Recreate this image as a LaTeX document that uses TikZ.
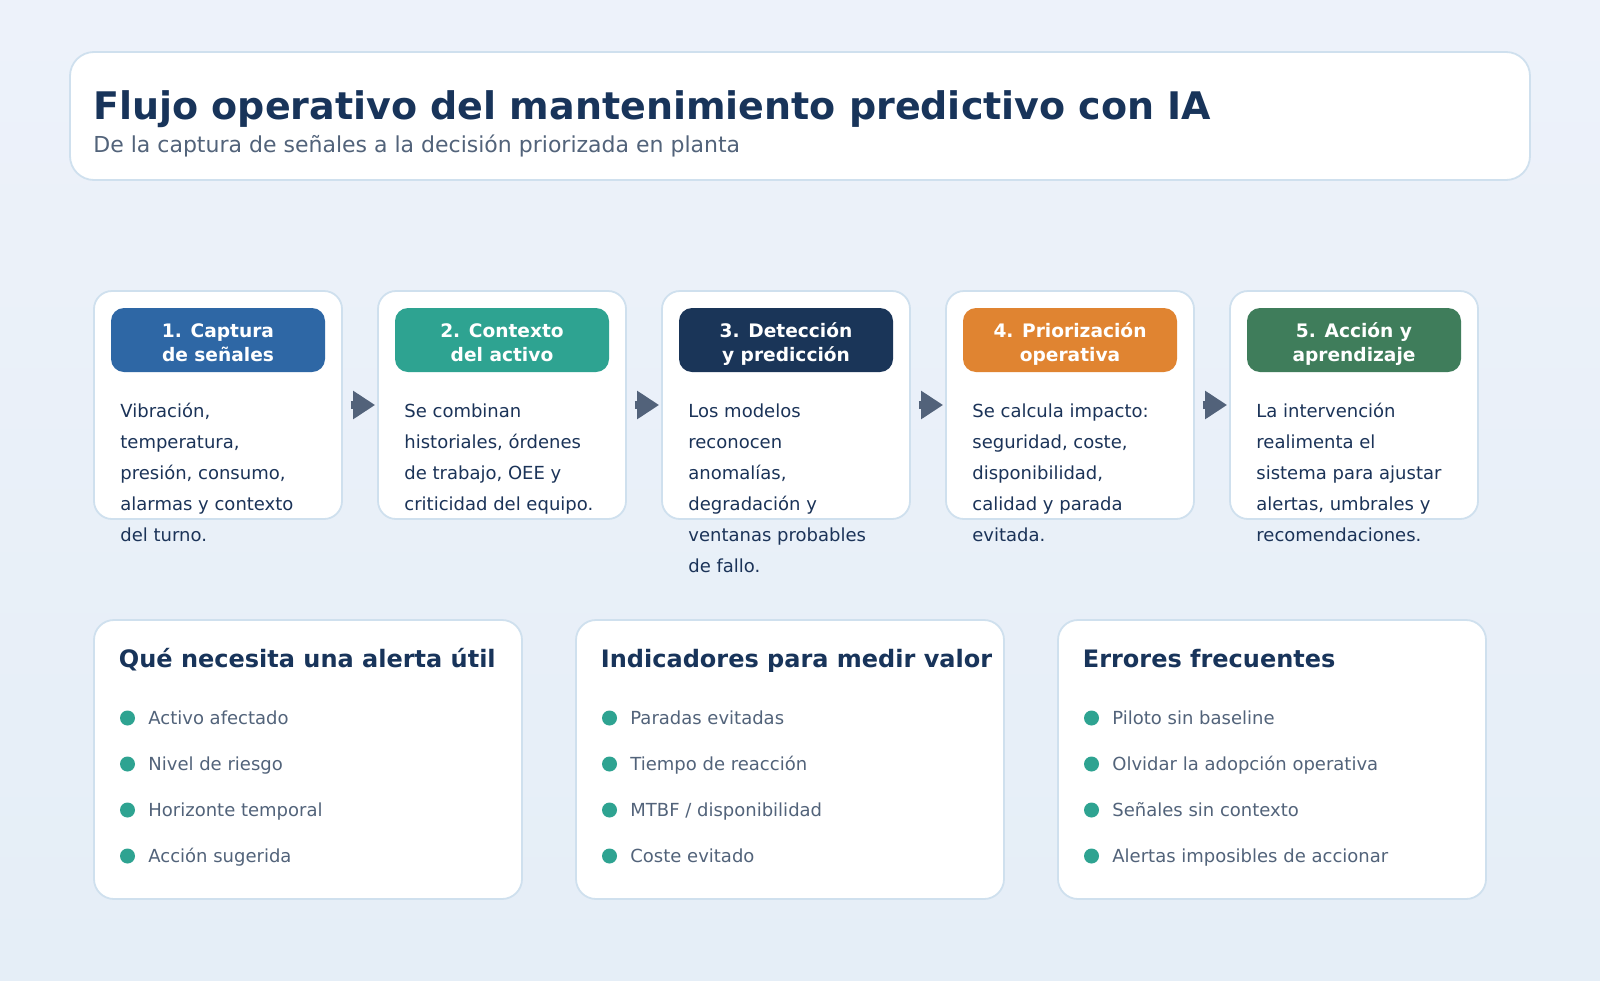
\documentclass[tikz,border=0pt]{standalone}
\usepackage{fontspec}
\setmainfont{DejaVu Sans}
\usetikzlibrary{arrows.meta}
\definecolor{bgtop}{HTML}{EDF2FA}
\definecolor{bgbot}{HTML}{E5EEF7}
\definecolor{edge}{HTML}{CFE0EE}
\definecolor{navy}{HTML}{18345A}
\definecolor{bodyc}{HTML}{1B3358}
\definecolor{slate}{HTML}{52637A}
\definecolor{arrowc}{HTML}{52627A}
\definecolor{dotc}{HTML}{2EA391}
\definecolor{cA}{HTML}{2E67A5}
\definecolor{cB}{HTML}{2EA391}
\definecolor{cC}{HTML}{1A3558}
\definecolor{cD}{HTML}{E08431}
\definecolor{cE}{HTML}{3F7D5B}
\newcommand\cardbody[3]{%
  \foreach \t [count=\k from 0] in {#3} {%
    \node[bodytxt] (b#1-\k) at (#2, {417+31*\k}) {\t};}}
\newcommand\panelitems[3]{%
  \foreach \t [count=\k from 0] in {#3} {%
    \node[dot] (d#1-\k) at ({#2+33.5}, {718+46*\k}) {};
    \node[itemtxt] (i#1-\k) at ({#2+54}, {724+46*\k}) {\t};}}
\begin{document}
\begin{tikzpicture}[x=0.5pt,y=-0.5pt,
  frame/.style={draw=edge, line width=0.9pt, fill=white, inner sep=0},
  card/.style={frame, rounded corners=9pt, minimum width=124pt, minimum height=114pt},
  pill/.style={rounded corners=6.5pt, minimum width=107pt, minimum height=32pt, inner sep=0},
  pilltxt/.style={anchor=base, inner sep=0, text=white, font=\bfseries\fontsize{9.3}{12}\selectfont},
  bodytxt/.style={anchor=base west, inner sep=0, text=bodyc, font=\fontsize{9}{12}\selectfont},
  bigpanel/.style={frame, rounded corners=10pt, minimum width=214pt, minimum height=139.5pt},
  ptitle/.style={anchor=base west, inner sep=0, text=navy, font=\bfseries\fontsize{12}{14}\selectfont},
  itemtxt/.style={anchor=base west, inner sep=0, text=slate, font=\fontsize{9}{12}\selectfont},
  dot/.style={circle, fill=dotc, inner sep=0, minimum size=7.5pt},
  flow/.style={draw=arrowc, line width=4pt, shorten <=4pt, shorten >=1pt,
    -{Triangle[length=11pt,width=13.5pt]}}
]
\useasboundingbox (0,0) rectangle (1600,980);
\shade[top color=bgtop, bottom color=bgbot] (0,0) rectangle (1600,980);

% header
\node[frame, rounded corners=12pt, minimum width=730pt, minimum height=64pt] (header) at (800,116) {};
\node[anchor=base west, inner sep=0, text=navy, font=\bfseries\fontsize{19}{23}\selectfont]
  (title) at (93,119) {Flujo operativo del mantenimiento predictivo con IA};
\node[anchor=base west, inner sep=0, text=slate, font=\fontsize{11}{13}\selectfont]
  (subtitle) at (93,152) {De la captura de señales a la decisión priorizada en planta};

% step cards
\foreach \i/\col/\la/\lb in {0/cA/{1. Captura}/{de señales},
                             1/cB/{2. Contexto}/{del activo},
                             2/cC/{3. Detección}/{y predicción},
                             3/cD/{4. Priorización}/{operativa},
                             4/cE/{5. Acción y}/{aprendizaje}} {
  \pgfmathsetmacro\cx{218+284*\i}
  \node[card] (card\i) at (\cx,405) {};
  \node[pill, fill=\col] (pill\i) at (\cx,340) {};
  \node[pilltxt] (pa\i) at (\cx,337) {\la};
  \node[pilltxt] (pb\i) at (\cx,361) {\lb};
}
\foreach \i [evaluate=\i as \j using int(\i+1)] in {0,...,3}
  \draw[flow] (card\i.east) -- (card\j.west);

\cardbody{0}{120}{{Vibración,},{temperatura,},{presión, consumo,},{alarmas y contexto},{del turno.}}
\cardbody{1}{404}{{Se combinan},{historiales, órdenes},{de trabajo, OEE y},{criticidad del equipo.}}
\cardbody{2}{688}{{Los modelos},{reconocen},{anomalías,},{degradación y},{ventanas probables},{de fallo.}}
\cardbody{3}{972}{{Se calcula impacto:},{seguridad, coste,},{disponibilidad,},{calidad y parada},{evitada.}}
\cardbody{4}{1256}{{La intervención},{realimenta el},{sistema para ajustar},{alertas, umbrales y},{recomendaciones.}}

% bottom panels
\node[bigpanel] (p0) at (308,759.5) {};
\node[bigpanel] (p1) at (790,759.5) {};
\node[bigpanel] (p2) at (1272,759.5) {};
\node[ptitle] (t0) at (118.5,667) {Qué necesita una alerta útil};
\node[ptitle] (t1) at (600.5,667) {Indicadores para medir valor};
\node[ptitle] (t2) at (1082.5,667) {Errores frecuentes};
\panelitems{0}{94}{{Activo afectado},{Nivel de riesgo},{Horizonte temporal},{Acción sugerida}}
\panelitems{1}{576}{{Paradas evitadas},{Tiempo de reacción},{MTBF / disponibilidad},{Coste evitado}}
\panelitems{2}{1058}{{Piloto sin baseline},{Olvidar la adopción operativa},{Señales sin contexto},{Alertas imposibles de accionar}}
\end{tikzpicture}
\end{document}
